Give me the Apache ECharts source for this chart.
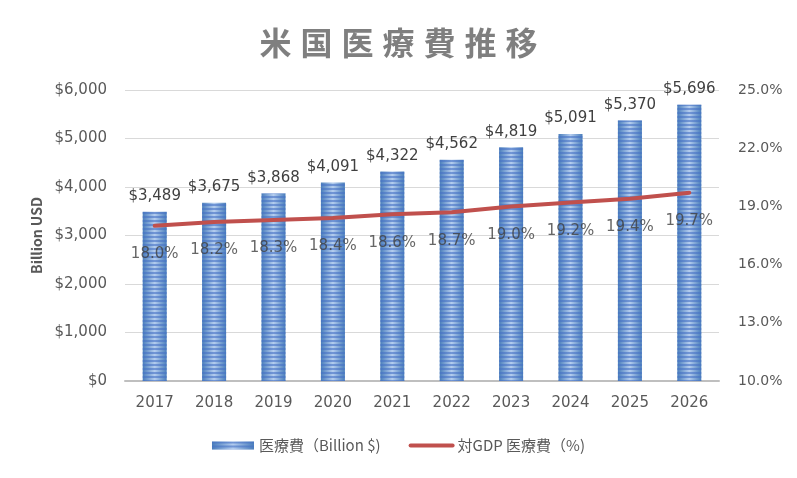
<!DOCTYPE html>
<html><head><meta charset="utf-8">
<script src="https://cdn.jsdelivr.net/npm/echarts@6/dist/echarts.min.js"></script>
<style>html,body{margin:0;padding:0;background:#fff}#c{width:797px;height:478px}</style>
</head><body><div id="c"></div>
<script>
const years = ['2017','2018','2019','2020','2021','2022','2023','2024','2025','2026'];
const spending = [3489,3675,3868,4091,4322,4562,4819,5091,5370,5696];
const gdpShare = [18.0,18.2,18.3,18.4,18.6,18.7,19.0,19.2,19.4,19.7];
const titleText = '米国医療費推移';

const chart = echarts.init(document.getElementById('c'), null, {renderer:'canvas'});
const txt = '#595959';
const font = '"Noto Sans CJK JP","Noto Sans",sans-serif';
const numFont = '"DejaVu Sans","Noto Sans CJK JP",sans-serif';
chart.setOption({
  animation:false,
  title:{text:titleText.split('').map(c=>'{a|'+c+'}').join(''),left:'center',top:22,
    textStyle:{rich:{a:{fontSize:32,fontWeight:'bold',color:'#7f7f7f',fontFamily:font,padding:[0,4.5]}}}},
  grid:{left:125,right:78,top:90,bottom:97},
  legend:{bottom:20,left:'center',itemGap:28,itemWidth:42,itemHeight:8,
    textStyle:{fontSize:15,color:txt,fontFamily:font},
    data:[{name:'医療費（Billion $)',icon:'rect'},
          {name:'対GDP 医療費（%)',itemStyle:{color:'rgba(0,0,0,0)',borderWidth:0},lineStyle:{width:4,cap:'round',color:'#c0504d'}}]},
  xAxis:{type:'category',data:years,
    axisLine:{lineStyle:{color:'#bfbfbf',width:2}},axisTick:{show:false},
    axisLabel:{fontSize:15,color:txt,margin:15,fontFamily:numFont}},
  yAxis:[{type:'value',min:0,max:6000,interval:1000,name:'Billion USD',nameLocation:'middle',nameGap:80,
    nameTextStyle:{fontSize:14,fontWeight:'bold',color:txt,fontFamily:font},
    axisLabel:{fontSize:15,color:txt,margin:18,fontFamily:numFont,formatter:v=>'$'+v.toLocaleString('en-US')},
    splitLine:{lineStyle:{color:'#d9d9d9',width:1}},axisLine:{show:false},axisTick:{show:false}},
   {type:'value',min:10,max:25,interval:3,
    axisLabel:{fontSize:14,color:txt,margin:19,fontFamily:numFont,formatter:v=>v.toFixed(1)+'%'},
    splitLine:{show:false},axisLine:{show:false},axisTick:{show:false}}],
  series:[{name:'医療費（Billion $)',type:'bar',data:spending,barWidth:24,
    itemStyle:{color:{type:'linear',x:0,y:0,x2:1,y2:0,colorStops:[
      {offset:0,color:'#4a7ebb'},{offset:0.5,color:'#b4cdef'},{offset:1,color:'#4a7ebb'}]},
      decal:{symbol:'rect',dashArrayX:[1,0],dashArrayY:[2,2],symbolSize:1,color:'rgba(70,114,196,0.6)',rotation:0}},
    label:{show:true,position:'top',distance:8,fontSize:15,color:'#404040',fontFamily:numFont,
      formatter:p=>'$'+p.value.toLocaleString('en-US')}},
   {name:'対GDP 医療費（%)',type:'line',yAxisIndex:1,data:gdpShare,symbol:'none',z:3,
    lineStyle:{color:'#c0504d',width:4,cap:'round'},itemStyle:{color:'#c0504d'}},
   {name:'gdpLabels',type:'scatter',yAxisIndex:1,data:gdpShare,symbolSize:0,z:4,silent:true,
    itemStyle:{color:'rgba(0,0,0,0)'},
    label:{show:true,position:'bottom',distance:21,fontSize:15,color:'#404040',fontFamily:numFont,
      formatter:p=>p.value.toFixed(1)+'%'}}]
});
</script></body></html>
